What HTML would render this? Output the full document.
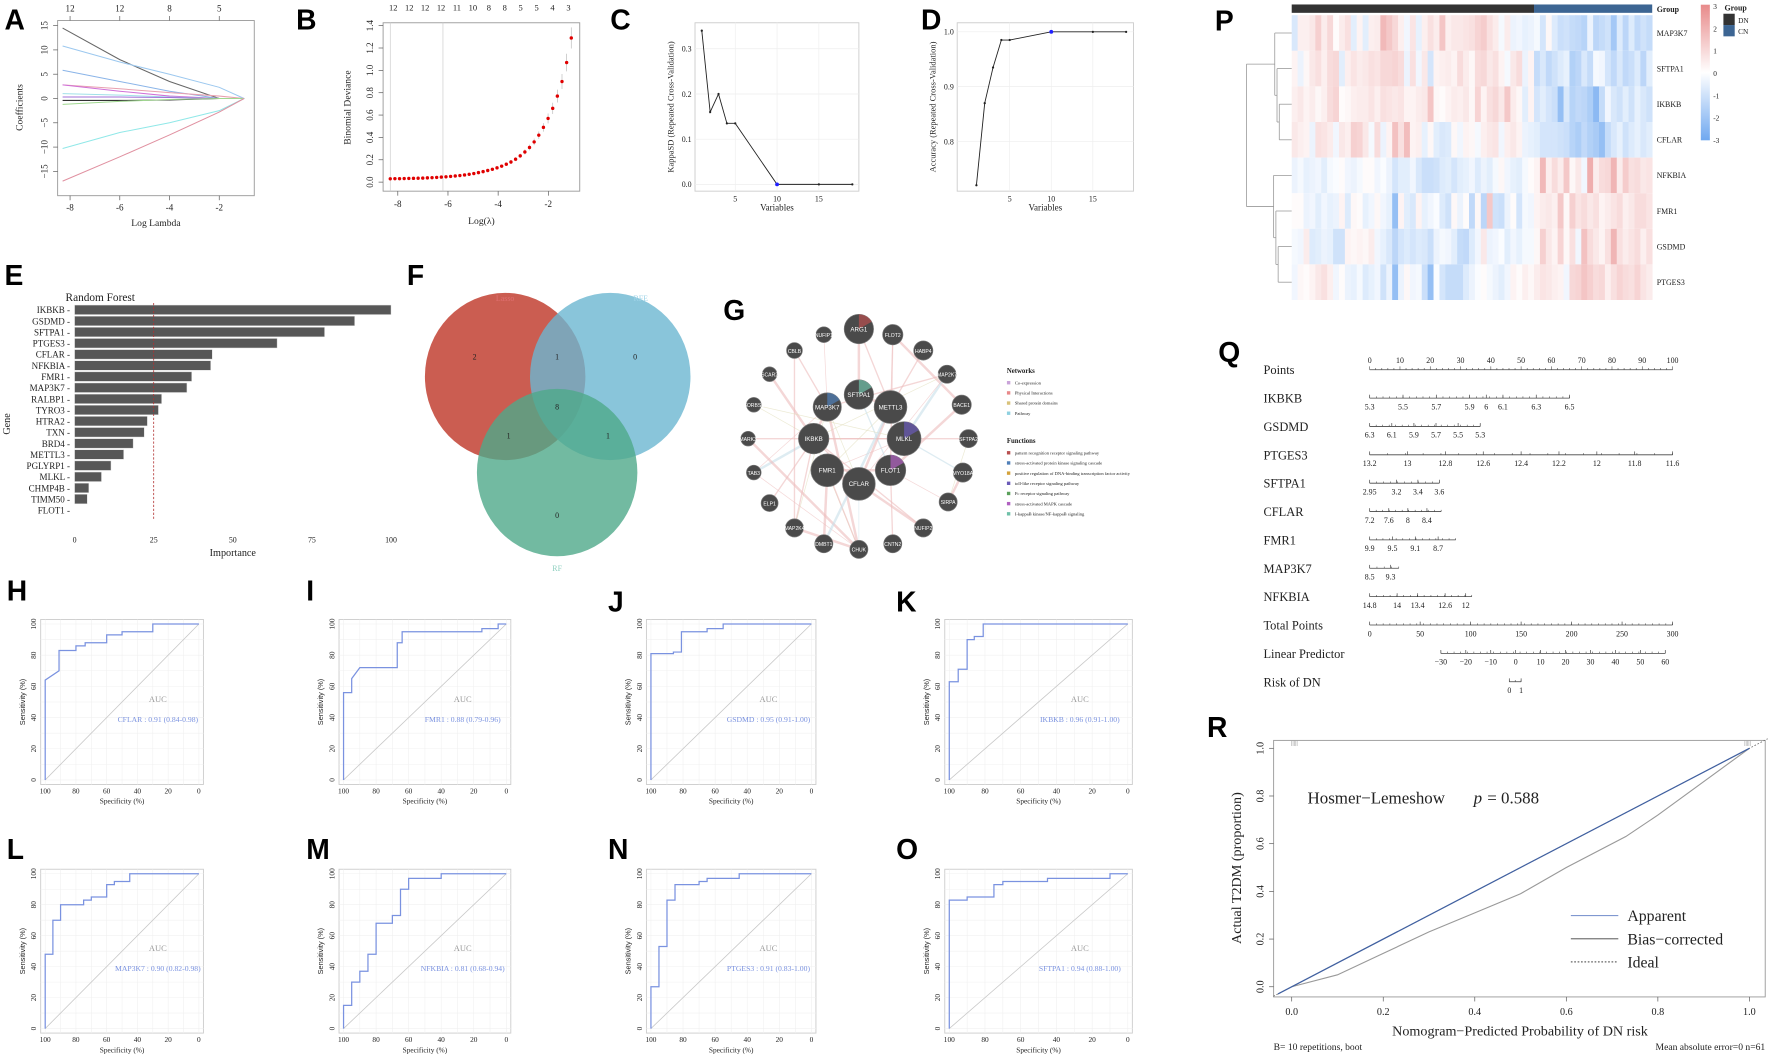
<!DOCTYPE html>
<html><head><meta charset="utf-8"><style>
html,body{margin:0;padding:0;background:#fff;}
svg{display:block;}
</style></head><body>
<svg id="fig" xmlns="http://www.w3.org/2000/svg" width="1772" height="1057" viewBox="0 0 1568 935">
<defs>
<linearGradient id="cbar" x1="0" y1="0" x2="0" y2="1">
<stop offset="0" stop-color="#e88a8a"/><stop offset="0.5" stop-color="#ffffff"/><stop offset="1" stop-color="#6fa8f0"/>
</linearGradient>
</defs>
</svg>
<script>
// ---------- DATA ----------
const aLambda=[-8.3,-6,-4,-2,-1];
const aCoefBlack=[14.5,8,3.5,0,0];
const aCoefLightBlue=[10.8,7.5,5,2.3,0];
const aCoefBlue=[5.8,3.5,1.5,0,0];
const aCoefPink=[2.8,2,1.2,0.5,0];
const aCoefMagenta=[2.8,1.5,0.5,0,0];
const aCoefCyanSmall=[1,0.7,0.3,0,0];
const aCoefPurple=[0.3,0.3,0.2,0,0];
const aCoefDark=[-0.4,-0.4,-0.3,0,0];
const aCoefGreen=[-1.2,-0.6,-0.2,0,0];
const aCoefCyan=[-10.3,-7,-5,-2.5,0];
const aCoefRed=[-17,-12,-7.5,-2.8,0];
const aTopLabels=['12','12','8','5'];
const bStart=-8.3, bStep=0.185;
const bDev=[.030,.031,.031,.032,.033,.034,.035,.036,.038,.040,.042,.045,.048,.051,.055,.059,.064,.070,.077,.085,.094,.104,.115,.128,.143,.16,.18,.205,.235,.27,.31,.36,.42,.49,.57,.66,.77,.90,1.07,1.29];
const bTopLabels=['12','12','12','12','11','10','8','8','5','5','4','3'];
const cVars=[1,2,3,4,5,10,15,19];
const cKappa=[0.34,0.16,0.2,0.135,0.135,0,0,0];
const dVars=[1,2,3,4,5,10,15,19];
const dAcc=[0.72,0.87,0.935,0.985,0.985,1,1,1];
const eGenes=['IKBKB','GSDMD','SFTPA1','PTGES3','CFLAR','NFKBIA','FMR1','MAP3K7','RALBP1','TYRO3','HTRA2','TXN','BRD4','METTL3','PGLYRP1','MLKL','CHMP4B','TIMM50','FLOT1'];
const eImp=[100,88.5,79,64,43.5,43,37,35.5,27.5,26.5,23,22,18.5,15.5,11.5,8.5,4.5,4,0];
const fCounts=['2','1','0','8','1','1','0'];
const gNodes=[['ARG1',760,291,13],['FLOT2',790,296,9],['HABP4',817,310,8.5],['MAP2K7',838,331,8],['BACE1',851,358,8.5],['SFTPA2',857,388,8],['MYO18A',852,418,8.5],['SIRPA',839,444,8],['NUFIP2',817,467,8],['CNTN2',790,481,8],['CHUK',760,486,8],['DMBT1',729,481,8],['MAP2K4',703,467,8],['ELP1',681,445,7.5],['TAB3',667,418,6.5],['MARK3',662,388,6.5],['SORBS1',667,358,6.5],['SCAR2',681,331,6.5],['CBLB',703,310,7],['NUFIP1',729,296,7],['SFTPA1',760,349,13],['METTL3',788,360,14.5],['MAP3K7',732,360,12.5],['IKBKB',720,388,13.5],['MLKL',800,388,15],['FMR1',732,416,14.5],['FLOT1',788,416,13.5],['CFLAR',760,428,14.5]];
const gEdges=[['ARG1','SFTPA1'],['ARG1','METTL3'],['FLOT2','METTL3'],['FLOT2','BACE1'],['HABP4','METTL3'],['MAP2K7','IKBKB'],['MAP2K7','MLKL'],['MAP2K7','MAP3K7'],['MAP2K7','CFLAR'],['BACE1','FLOT1'],['SFTPA2','MLKL'],['SFTPA2','SIRPA'],['MYO18A','SIRPA'],['MYO18A','MLKL'],['SIRPA','FLOT1'],['NUFIP2','CFLAR'],['CNTN2','FLOT1'],['CHUK','IKBKB'],['CHUK','MAP3K7'],['CHUK','FMR1'],['CHUK','CFLAR'],['DMBT1','FMR1'],['MAP2K4','IKBKB'],['MAP2K4','MAP3K7'],['MAP2K4','CHUK'],['ELP1','IKBKB'],['TAB3','MAP3K7'],['TAB3','IKBKB'],['MARK3','MLKL'],['SORBS1','IKBKB'],['SCAR2','IKBKB'],['CBLB','MAP3K7'],['NUFIP1','MAP3K7'],['SFTPA1','METTL3'],['SFTPA1','FLOT1'],['METTL3','FMR1'],['METTL3','CFLAR'],['MLKL','IKBKB'],['MLKL','FMR1'],['FMR1','FLOT1'],['CFLAR','IKBKB'],['CFLAR','MAP3K7'],['MAP3K7','IKBKB'],['FLOT2','FLOT1'],['TAB3','CHUK'],['MARK3','CHUK'],['CBLB','MAP2K4'],['SORBS1','MLKL'],['DMBT1','METTL3'],['NUFIP2','IKBKB']];
const gNetLabels=['Co-expression','Physical Interactions','Shared protein domains','Pathway'];
const gFuncLabels=['pattern recognition receptor signaling pathway','stress-activated protein kinase signaling cascade','positive regulation of DNA-binding transcription factor activity','toll-like receptor signaling pathway','Fc receptor signaling pathway','stress-activated MAPK cascade','I-kappaB kinase/NF-kappaB signaling'];
const rocH=[[100,0],[100,64],[91,70],[91,83],[80,83],[80,86],[74,86],[74,88],[60,88],[60,93],[50,93],[50,95],[30,95],[30,100],[0,100]];
const rocI=[[100,0],[100,56],[95,56],[95,65],[90,72],[67,72],[67,88],[64,88],[64,95],[15,95],[15,97],[5,97],[5,100],[0,100]];
const rocJ=[[100,0],[100,81],[86,81],[86,82],[81,82],[81,95],[65,95],[65,97],[55,97],[55,100],[0,100]];
const rocK=[[100,0],[100,63],[95,63],[95,71],[90,71],[90,90],[86,90],[86,92],[81,92],[81,100],[0,100]];
const rocL=[[100,0],[100,48],[95,48],[95,70],[90,70],[90,80],[75,80],[75,83],[70,83],[70,85],[60,85],[60,93],[55,93],[55,95],[45,95],[45,100],[0,100]];
const rocM=[[100,0],[100,15],[95,15],[95,30],[90,30],[90,37],[85,37],[85,48],[80,48],[80,68],[70,68],[70,73],[65,73],[65,90],[60,90],[60,97],[40,97],[40,100],[0,100]];
const rocN=[[100,0],[100,27],[95,27],[95,53],[90,53],[90,83],[85,83],[85,93],[70,93],[70,95],[65,95],[65,97],[45,97],[45,100],[0,100]];
const rocO=[[100,0],[100,83],[90,83],[90,85],[75,85],[75,93],[70,93],[70,95],[45,95],[45,97],[10,97],[10,100],[0,100]];
const rocLabels=['CFLAR : 0.91 (0.84-0.98)','FMR1 : 0.88 (0.79-0.96)','GSDMD : 0.95 (0.91-1.00)','IKBKB : 0.96 (0.91-1.00)','MAP3K7 : 0.90 (0.82-0.98)','NFKBIA : 0.81 (0.68-0.94)','PTGES3 : 0.91 (0.83-1.00)','SFTPA1 : 0.94 (0.88-1.00)'];
const pGenes=['MAP3K7','SFTPA1','IKBKB','CFLAR','NFKBIA','FMR1','GSDMD','PTGES3'];
const pDN=41, pCN=20;
const pMAP3K7=[-0.8,0.4,0.4,0.6,1.2,0.5,1,0.1,0.5,0.8,-0.6,0.3,-0.6,0.4,0.5,1.8,1.4,1,0.4,-0.3,0.7,-0.5,0.4,0.8,0.5,1.5,0.4,0.6,0.6,0.7,0.8,1.1,1.3,0.8,0.5,-0.2,0.5,-0.4,-0.3,-0.5,-0.4,-0.2,-0.9,0.2,-0.7,-1.1,-1,-1.2,-1.3,-1.5,-0.4,-1.4,-1.2,-1,-1.9,-0.7,-1.4,-0.7,-1.3,-1,-1.2];
const pSFTPA1=[0.3,-0.4,0.2,0.6,0.8,0.4,0.9,1,-0.6,0.4,0.7,0.5,0.6,0.8,0.7,1,1,1.1,0.9,-0.4,0.8,-0.3,0.6,-0.9,0.3,0.4,0.5,0.3,0.9,0.5,0.2,0.9,1,0.6,0.8,0.3,-0.2,0.6,0.9,-0.4,0.3,-1.2,-0.8,-1.3,-1,-0.7,-0.5,-1.6,-1.4,-0.8,-1.2,-0.2,-0.3,-0.9,-1.3,-0.8,-1.3,-1.1,-0.7,-1.4,-0.6];
const pIKBKB=[0.4,0.6,0.3,0.5,0.2,0.4,0.9,1.1,0.1,0.2,0.4,0.5,0.5,0.7,0.4,0.8,0.7,0.6,0.7,0.3,0.3,0.5,0.6,1.5,0.2,0.1,0.3,0.5,0.4,0.6,0.2,1.1,0.3,0.8,1,0.6,1.4,0.5,0.2,-0.6,0.3,-0.9,-0.6,-0.9,-1.1,-2.2,-0.8,-1.5,-1.3,-1.4,-1.7,-2.4,-1.2,-0.3,-0.8,-1,-0.6,-1,-0.5,-0.8,-1];
const pCFLAR=[0.6,0.4,0.3,-0.4,0.8,0.7,0.5,-0.3,0.6,0.4,1.2,1.1,0.6,-0.2,0.9,-0.4,0.3,1.6,0.8,1.7,0.3,0.4,-0.5,0.2,-0.6,-0.8,-0.7,0.2,-0.3,0.3,0.2,-0.2,0.4,0.6,0.7,-0.3,0.4,0.6,0.3,-0.4,-0.5,-0.6,-0.9,-0.9,-0.9,-1,-1.1,-1.5,-1.7,-1.3,-1.6,-1.8,-2.2,-1.2,-0.8,-0.5,-1,-0.7,-0.5,-0.8,-0.6];
const pNFKBIA=[-0.4,-0.2,-0.5,-0.4,-0.3,-0.6,-0.2,-0.1,0.1,-0.3,-0.4,-0.2,0.1,0.1,-0.3,-0.1,-0.4,-0.9,-0.6,-0.6,-0.3,-0.8,-1.1,-1.1,-1,-0.7,-0.6,-0.9,-0.6,-0.5,-0.3,-0.7,-0.4,-0.6,-0.2,0.2,-0.3,-0.5,-0.6,-0.2,0.1,0.3,1.8,0.4,0.9,0.5,1.4,0.2,0.6,-0.3,2.1,0.5,0.9,1,1.9,0.5,1.3,0.8,0.9,0.6,0.7];
const pFMR1=[0.1,0.1,-0.4,-0.3,-0.6,-0.3,-0.5,-0.4,0.3,-0.7,0.2,0.1,-0.5,-0.3,0.2,-0.3,-0.5,-2.2,0.3,-0.6,-0.8,0.3,-0.5,-0.3,-0.1,-0.7,-1,0.2,-0.4,0.1,-1.3,0.2,-1.4,1.4,-1,-1.1,-0.4,0.1,-0.9,-0.2,-0.3,0.3,0.5,0.6,0.4,1.4,0.2,1.2,0.7,0.9,0.6,0.8,0.3,0.5,0.7,0.9,0.4,0.6,0.9,0.9,0.7];
const pGSDMD=[-0.2,-0.3,0.5,-0.7,-0.6,-0.4,-0.5,-1,-1,0.3,0.2,0.3,0.2,0.5,-0.3,-0.5,-0.8,-1.4,-0.9,-0.7,-0.9,-0.7,-0.8,-1.1,-0.4,-0.2,-0.3,-0.6,-1.2,-1.3,-0.7,-0.3,0.6,-0.4,-0.3,-0.1,-0.6,-0.3,-0.5,-0.2,-0.2,0.2,1.2,0.6,0.3,1.1,0.2,0.8,-0.3,1.6,0.9,0.6,0.3,0.8,1.9,0.8,0.5,0.7,0.9,0.4,0.8];
const pPTGES3=[-0.3,0.2,0.1,0.3,0.6,0.8,0.4,-0.3,0.1,-0.4,-0.5,-0.2,-0.7,-0.5,-0.3,-1,-0.4,-2.2,-0.4,0.2,-0.3,-0.2,-1.1,-2.2,-0.1,-0.9,-1.2,-1.2,-1.2,-0.7,-0.4,-0.1,0.1,-0.2,-0.4,-0.6,-0.3,0.3,0.1,0.4,0.2,0.5,0.7,0.6,0.4,0.3,-0.3,1,1.1,1.5,1.2,0.9,1,0.4,0.8,1.1,0.9,0.8,1.1,0.7,0.5];
const pRows=[pMAP3K7,pSFTPA1,pIKBKB,pCFLAR,pNFKBIA,pFMR1,pGSDMD,pPTGES3];
const pScaleLabels=['3','2','1','0','-1','-2','-3'];
const qRowNames=['Points','IKBKB','GSDMD','PTGES3','SFTPA1','CFLAR','FMR1','MAP3K7','NFKBIA','Total Points','Linear Predictor','Risk of DN'];
const qPointsTicks=[0,10,20,30,40,50,60,70,80,90,100];
const qIKBKB=[5.3,5.5,5.7,5.9,6,6.1,6.3,6.5];
const qGSDMD=[6.3,6.1,5.9,5.7,5.5,5.3];
const qPTGES3=[13.2,13,12.8,12.6,12.4,12.2,12,11.8,11.6];
const qSFTPA1=[2.95,3.2,3.4,3.6];
const qCFLAR=[7.2,7.6,8,8.4];
const qFMR1=[9.9,9.5,9.1,8.7];
const qMAP3K7=[8.5,9.3];
const qNFKBIA=[14.8,14,13.4,12.6,12];
const qTotal=[0,50,100,150,200,250,300];
const qLinear=[-30,-20,-10,0,10,20,30,40,50,60];
const qRisk=[0,1];
const qMapIKBKB=[5.3,0,6.5,66,66];
const qMapGSDMD=[6.3,0,5.3,36.5,36.5];
const qMapPTGES3=[13.2,0,11.6,100,100];
const qMapSFTPA1=[2.95,0,3.6,23,23];
const qMapCFLAR=[7.2,0,8.4,18.9,23.6];
const qMapFMR1=[9.9,0,8.7,22.6,28.4];
const qMapMAP3K7=[8.5,0,9.3,6.9,9.6];
const qMapNFKBIA=[14.8,0,12,31.7,33.7];
const qMapTotal=[0,0,300,100,100];
const qMapLinear=[-30,23.5,60,97.6,97.6];
const qMapRisk=[0,46.1,1,50,50];
const rApparentX=[-0.03,1.0];
const rApparentY=[-0.03,1.0];
const rBiasX=[0,0.1,0.2,0.3,0.4,0.5,0.6,0.73,0.8,0.9,1.0];
const rBiasY=[0,0.05,0.14,0.23,0.31,0.39,0.5,0.63,0.72,0.86,1.0];
const rTicks=[0,0.2,0.4,0.6,0.8,1.0];

// ---------- HELPERS ----------
const NS='http://www.w3.org/2000/svg';
const svg=document.getElementById('fig');
function mk(tag,attrs,name,parent){
  const el=document.createElementNS(NS,tag);
  for(const k in attrs) el.setAttribute(k,attrs[k]);
  
  
  (parent||svg).appendChild(el);
  return el;
}
const SERIF='Liberation Serif, serif', SANS='Liberation Sans, sans-serif';
function txt(x,y,s,name,o){
  o=o||{};
  const a={x:x,y:y,'font-size':o.size||8,'font-family':o.font||SERIF,fill:o.fill||'#222','text-anchor':o.anchor||'start'};
  if(o.rot) a.transform='rotate('+o.rot+' '+x+' '+y+')';
  if(o.weight) a['font-weight']=o.weight;
  if(o.style) a['font-style']=o.style;
  const el=mk('text',a,name,o.parent);
  el.textContent=s;
  return el;
}
function ln(x1,y1,x2,y2,stroke,w,name,extra){
  return mk('line',Object.assign({x1:x1,y1:y1,x2:x2,y2:y2,stroke:stroke,'stroke-width':w||1},extra||{}),name);
}
function poly(pts,stroke,w,name,extra){
  return mk('polyline',Object.assign({points:pts.map(p=>p[0].toFixed(2)+','+p[1].toFixed(2)).join(' '),fill:'none',stroke:stroke,'stroke-width':w||1},extra||{}),name);
}
function rect(x,y,w,h,fill,name,extra){
  return mk('rect',Object.assign({x:x,y:y,width:w,height:h,fill:fill},extra||{}),name);
}

// ---------- PANEL LETTERS ----------
const letters=[['A',4,26],['B',262,26],['C',540,26],['D',815,26],['E',4,252],['F',360,252],['G',640,283],['H',6,531],['I',271,531],['J',538,541],['K',793,541],['L',6,760],['M',271,760],['N',538,760],['O',793,760],['P',1075,27],['Q',1078,320],['R',1068,652]];
letters.forEach(l=>txt(l[1],l[2],l[0],'panel-label-'+l[0].toLowerCase(),{size:25,font:SANS,weight:'bold',fill:'#000'}));

// ---------- A ----------
(function(){
  const ax=l=>62+(l+8)*22, ay=v=>87-4.3*v;
  rect(51,18,174,155,'none','lasso-plot-frame',{stroke:'#999','stroke-width':0.8});
  const series=[aCoefBlack,aCoefLightBlue,aCoefBlue,aCoefPink,aCoefMagenta,aCoefCyanSmall,aCoefPurple,aCoefDark,aCoefGreen,aCoefCyan,aCoefRed];
  const cols=['#666','#9cc8ef','#8ab4e8','#e8a0b0','#d070d8','#a0e0e8','#a070d8','#333','#a0d890','#90e8e8','#e090a0'];
  series.forEach((s,i)=>poly(s.map((v,j)=>[ax(aLambda[j]),ay(v)]),cols[i],0.9,'lasso-coef-line'));
  [15,10,5,0,-5,-10,-15].forEach(v=>{ln(47,ay(v),51,ay(v),'#555',0.6,'y-tick');txt(42,ay(v),String(v).replace('-','−'),'y-tick-label',{size:8,anchor:'middle',rot:-90});});
  [-8,-6,-4,-2].forEach((v,i)=>{ln(ax(v),173,ax(v),177,'#555',0.6,'x-tick');txt(ax(v),186,String(v),'x-tick-label',{size:8,anchor:'middle'});
    ln(ax(v),14,ax(v),18,'#555',0.6,'top-tick');txt(ax(v),10,aTopLabels[i],'top-tick-label',{size:8,anchor:'middle'});});
  txt(138,200,'Log Lambda','x-axis-title',{size:8.5,anchor:'middle'});
  txt(20,95,'Coefficients','y-axis-title',{size:8.5,anchor:'middle',rot:-90});
})();

// ---------- B ----------
(function(){
  const bx=l=>352+(l+8)*22.2, by=v=>161-98.9*v;
  rect(339,20,174,149,'none','cv-plot-frame',{stroke:'#999','stroke-width':0.8});
  ln(bx(-8.3),20,bx(-8.3),169,'#ccc',0.6,'lambda-min-line');
  ln(bx(-6.2),20,bx(-6.2),169,'#ccc',0.6,'lambda-1se-line');
  bDev.forEach((v,i)=>{const x=bx(bStart+i*bStep);const e=0.004+v*0.07;
    ln(x,by(v+e),x,by(v-e),'#bbb',0.6,'error-bar');
    mk('circle',{cx:x,cy:by(v),r:1.5,fill:'#e00000'},'deviance-point');});
  [0,0.2,0.4,0.6,0.8,1.0,1.2,1.4].forEach(v=>{ln(335,by(v),339,by(v),'#555',0.6,'y-tick');txt(330,by(v),v.toFixed(1),'y-tick-label',{size:8,anchor:'middle',rot:-90});});
  [-8,-6,-4,-2].forEach(v=>{ln(bx(v),169,bx(v),173,'#555',0.6,'x-tick');txt(bx(v),183,String(v),'x-tick-label',{size:8,anchor:'middle'});});
  bTopLabels.forEach((s,i)=>txt(348+i*(155/11),9,s,'top-tick-label',{size:7.5,anchor:'middle'}));
  txt(426,198,'Log(λ)','x-axis-title',{size:8.5,anchor:'middle'});
  txt(310,95,'Binomial Deviance','y-axis-title',{size:8.5,anchor:'middle',rot:-90});
})();

// ---------- C & D ----------
function rfe(vars,vals,x0,x1,top,bottom,mx,my,yt,yfmt,ytitle,pre){
  rect(x0,top,x1-x0,bottom-top,'#fff',pre+'-plot-frame',{stroke:'#ccc','stroke-width':0.8});
  [5,10,15].forEach(v=>ln(mx(v),top,mx(v),bottom,'#eee',0.6,'grid-x'));
  yt.forEach(v=>ln(x0,my(v),x1,my(v),'#eee',0.6,'grid-y'));
  poly(vars.map((v,i)=>[mx(v),my(vals[i])]),'#222',0.8,pre+'-line');
  vars.forEach((v,i)=>mk('circle',{cx:mx(v),cy:my(vals[i]),r:v===10?1.7:1,fill:v===10?'#2020ff':'#222'},pre+'-point'));
  yt.forEach(v=>txt(x0-3,my(v)+2.5,yfmt(v),'y-tick-label',{size:7,anchor:'end'}));
  [5,10,15].forEach(v=>txt(mx(v),bottom+9,String(v),'x-tick-label',{size:7,anchor:'middle'}));
  txt((x0+x1)/2,bottom+17,'Variables','x-axis-title',{size:8,anchor:'middle'});
  txt(x0-19,(top+bottom)/2,ytitle,'y-axis-title',{size:7.5,anchor:'middle',rot:-90});
}
rfe(cVars,cKappa,615,760,20,169,v=>621+(v-1)*7.4,v=>163-400*v,[0,0.1,0.2,0.3],v=>v.toFixed(1),'KappaSD (Repeated Cross-Validation)','kappa');
rfe(dVars,dAcc,847,1003,20,169,v=>864+(v-1)*7.36,v=>28+(1-v)*485,[0.8,0.9,1.0],v=>v.toFixed(1),'Accuracy (Repeated Cross-Validation)','accuracy');

// ---------- E ----------
(function(){
  const ex=v=>66+2.8*v, ey=i=>274+i*9.85;
  txt(58,266,'Random Forest','chart-title',{size:10});
  eImp.forEach((v,i)=>{
    rect(ex(0),ey(i)-4.2,ex(v)-ex(0),8.4,'#575757','importance-bar',{stroke:'#ddd','stroke-width':0.4});
    txt(62,ey(i)+3,eGenes[i]+' -','gene-label',{size:8,anchor:'end'});
  });
  ln(ex(25),268,ex(25),460,'#b03030',0.7,'threshold-line',{'stroke-dasharray':'2,1.5'});
  [0,25,50,75,100].forEach(v=>txt(ex(v),480,String(v),'x-tick-label',{size:7,anchor:'middle'}));
  txt(ex(50),492,'Importance','x-axis-title',{size:9,anchor:'middle'});
  txt(9,375,'Gene','y-axis-title',{size:9,anchor:'middle',rot:-90});
})();

// ---------- F ----------
(function(){
  mk('ellipse',{cx:447,cy:333,rx:71,ry:74,fill:'#c0392b','fill-opacity':0.82},'venn-lasso');
  mk('ellipse',{cx:540,cy:333,rx:71,ry:74,fill:'#6bb6d1','fill-opacity':0.8},'venn-rfe');
  mk('ellipse',{cx:493,cy:418,rx:71,ry:74,fill:'#4fa98a','fill-opacity':0.8},'venn-rf');
  txt(447,266,'Lasso','venn-label-lasso',{size:7,anchor:'middle',fill:'#e07070'});
  txt(567,266,'RFE','venn-label-rfe',{size:7,anchor:'middle',fill:'#9fd4e8'});
  txt(493,505,'RF','venn-label-rf',{size:7,anchor:'middle',fill:'#8fd0c0'});
  const pos=[[420,318],[493,318],[562,318],[493,362],[450,388],[538,388],[493,458]];
  pos.forEach((p,i)=>txt(p[0],p[1],fCounts[i],'venn-count',{size:7,anchor:'middle'}));
})();

// ---------- G ----------
(function(){
  const idx={};gNodes.forEach(n=>idx[n[0]]=n);
  gEdges.forEach((e,i)=>{const a=idx[e[0]],b=idx[e[1]];
    const col=i%6===5?'#e0dcb8':(i%7===6?'#c8e0ea':'#ecbcbc');
    ln(a[1],a[2],b[1],b[2],col,i%3===0?2.2:(i%3===1?1.2:0.6),'network-edge',{'stroke-opacity':0.6});});
  const sliceCols=['#b84f4f','#4f7fb8','#d4a23a','#6a5ab8','#5aa05a','#b060c0','#6fc0a8'];
  gNodes.forEach((n,k)=>{
    mk('circle',{cx:n[1],cy:n[2],r:n[3],fill:'#4a4a4a',stroke:'#777','stroke-width':0.6},'network-node');
    if(n[3]>12 && k%2===0){const r=n[3];
      mk('path',{d:'M'+n[1]+','+n[2]+' L'+n[1]+','+(n[2]-r)+' A'+r+','+r+' 0 0 1 '+(n[1]+r*0.87)+','+(n[2]-r*0.5)+' Z',fill:sliceCols[k%7],'fill-opacity':0.7},'node-function-slice');}
    txt(n[1],n[2]+2,n[0],'node-label',{size:n[3]>11?5.5:4.5,font:SANS,anchor:'middle',fill:'#fff'});
  });
  txt(891,330,'Networks','legend-title-networks',{size:6,weight:'bold'});
  const nc=['#c9a3d9','#e8898a','#d8c27a','#8fd0e0'];
  gNetLabels.forEach((s,i)=>{rect(891,337+i*9,3,3,nc[i],'legend-swatch');txt(898,340+i*9,s,'legend-entry',{size:4});});
  txt(891,392,'Functions','legend-title-functions',{size:6,weight:'bold'});
  gFuncLabels.forEach((s,i)=>{rect(891,399+i*9,3,3,sliceCols[i],'legend-swatch');txt(898,402+i*9,s,'legend-entry',{size:4});});
})();

// ---------- H-O ----------
function roc(x0,x1,top,bottom,pts,label,name){
  const sx=s=>x0+4+(100-s)/100*(x1-x0-8), sy=v=>bottom-4-v/100*(bottom-top-8);
  rect(x0,top,x1-x0,bottom-top,'#fff',name+'-frame',{stroke:'#ccc','stroke-width':0.8});
  for(let g=0;g<=100;g+=10){ln(sx(g),top,sx(g),bottom,'#f0f0f0',0.5,'grid-x');ln(x0,sy(g),x1,sy(g),'#f0f0f0',0.5,'grid-y');}
  ln(sx(100),sy(0),sx(0),sy(100),'#c8c8c8',0.7,'reference-diagonal');
  poly(pts.map(p=>[sx(p[0]),sy(p[1])]),'#7a92e0',1.1,name+'-curve');
  [100,80,60,40,20,0].forEach(v=>{txt(sx(v),bottom+8,String(v),'x-tick-label',{size:6.5,anchor:'middle'});
    txt(x0-4,sy(v),String(v),'y-tick-label',{size:6.5,anchor:'middle',rot:-90});});
  txt((x0+x1)/2,bottom+17,'Specificity (%)','x-axis-title',{size:6.5,anchor:'middle'});
  txt(x0-14,(top+bottom)/2,'Sensitivity (%)','y-axis-title',{size:6.5,anchor:'middle',rot:-90,font:SANS});
  txt(x0+0.72*(x1-x0),top+0.5*(bottom-top),'AUC','auc-title',{size:7.5,anchor:'middle',fill:'#999'});
  txt(x0+0.72*(x1-x0),top+0.62*(bottom-top),label,'auc-label',{size:6.8,anchor:'middle',fill:'#7a92e0'});
}
const cols=[[36,180],[300,452],[572,722],[836,1002]];
const row1=[548,694], row2=[769,914];
[rocH,rocI,rocJ,rocK].forEach((d,i)=>roc(cols[i][0],cols[i][1],row1[0],row1[1],d,rocLabels[i],'roc-'+'hijk'[i]));
[rocL,rocM,rocN,rocO].forEach((d,i)=>roc(cols[i][0],cols[i][1],row2[0],row2[1],d,rocLabels[4+i],'roc-'+'lmno'[i]));

// ---------- P ----------
(function(){
  const x0=1143, x1=1462, top=13.3, rh=31.5;
  function col(v){const t=Math.max(-1,Math.min(1,v/3));
    const c=t>=0?[232,138,138]:[111,168,240];const a=Math.abs(t);
    return 'rgb('+Math.round(255+(c[0]-255)*a)+','+Math.round(255+(c[1]-255)*a)+','+Math.round(255+(c[2]-255)*a)+')';}
  const n=pDN+pCN, cw=(x1-x0)/n;
  rect(x0,3.8,cw*pDN,7.4,'#333','group-bar-dn');
  rect(x0+cw*pDN,3.8,cw*pCN,7.4,'#3c6593','group-bar-cn');
  pRows.forEach((row,r)=>{const w=(x1-x0)/row.length;
    row.forEach((v,c)=>rect(x0+c*w,top+r*rh,w+0.3,rh,col(v),'heatmap-cell'));
    txt(x1+4,top+r*rh+rh/2+2.5,pGenes[r],'row-label',{size:7});});
  txt(x1+4,10.5,'Group','group-label',{size:7,weight:'bold'});
  const yc=i=>top+i*rh+rh/2;
  const dg='#999';
  const segs=[[1143,yc(2),1132,yc(2)],[1143,yc(3),1132,yc(3)],[1132,yc(2),1132,yc(3)],
    [1143,yc(1),1130,yc(1)],[1132,(yc(2)+yc(3))/2,1130,(yc(2)+yc(3))/2],[1130,yc(1),1130,(yc(2)+yc(3))/2],
    [1143,yc(0),1128,yc(0)],[1130,(yc(1)+(yc(2)+yc(3))/2)/2,1128,(yc(1)+(yc(2)+yc(3))/2)/2],[1128,yc(0),1128,(yc(1)+(yc(2)+yc(3))/2)/2],
    [1143,yc(6),1131,yc(6)],[1143,yc(7),1131,yc(7)],[1131,yc(6),1131,yc(7)],
    [1143,yc(5),1129,yc(5)],[1131,(yc(6)+yc(7))/2,1129,(yc(6)+yc(7))/2],[1129,yc(5),1129,(yc(6)+yc(7))/2],
    [1143,yc(4),1127,yc(4)],[1129,(yc(5)+(yc(6)+yc(7))/2)/2,1127,(yc(5)+(yc(6)+yc(7))/2)/2],[1127,yc(4),1127,(yc(5)+(yc(6)+yc(7))/2)/2]];
  segs.forEach(s=>ln(s[0],s[1],s[2],s[3],dg,0.7,'dendrogram-branch'));
  const tY=(yc(0)+(yc(1)+(yc(2)+yc(3))/2)/2)/2, bY=(yc(4)+(yc(5)+(yc(6)+yc(7))/2)/2)/2;
  ln(1128,tY,1103,tY,dg,0.7,'dendrogram-branch');ln(1127,bY,1103,bY,dg,0.7,'dendrogram-branch');ln(1103,tY,1103,bY,dg,0.7,'dendrogram-branch');
  rect(1505,4,8,120,'url(#cbar)','color-scale-bar');
  pScaleLabels.forEach((s,i)=>txt(1516,8+i*19.7,s,'color-scale-label',{size:6.5}));
  txt(1526,9,'Group','legend-title-group',{size:7,weight:'bold'});
  rect(1525,12,10,10,'#333','legend-swatch-dn');txt(1538,20,'DN','legend-entry-dn',{size:6.5});
  rect(1525,22,10,10,'#3c6593','legend-swatch-cn');txt(1538,30,'CN','legend-entry-cn',{size:6.5});
})();

// ---------- Q ----------
(function(){
  const qx=p=>1212+p*2.68, rowY=i=>327+i*25.1;
  qRowNames.forEach((s,i)=>txt(1118,rowY(i)+4,s,'nomogram-row-label',{size:11}));
  ln(qx(0),rowY(0),qx(100),rowY(0),'#444',0.7,'points-axis');
  for(let p=0;p<=100;p+=2)ln(qx(p),rowY(0),qx(p),rowY(0)+(p%10===0?-3:-1.5),'#444',0.5,'points-tick');
  qPointsTicks.forEach(v=>txt(qx(v),rowY(0)-6,String(v),'points-tick-label',{size:7,anchor:'middle'}));
  const rows=[[qIKBKB,qMapIKBKB],[qGSDMD,qMapGSDMD],[qPTGES3,qMapPTGES3],[qSFTPA1,qMapSFTPA1],[qCFLAR,qMapCFLAR],[qFMR1,qMapFMR1],[qMAP3K7,qMapMAP3K7],[qNFKBIA,qMapNFKBIA],[qTotal,qMapTotal],[qLinear,qMapLinear],[qRisk,qMapRisk]];
  rows.forEach((r,k)=>{const i=k+1,y=rowY(i),m=r[1];
    const pv=v=>m[1]+(v-m[0])/(m[2]-m[0])*(m[3]-m[1]);
    ln(qx(m[1]),y,qx(m[4]),y,'#444',0.7,'nomogram-axis');
    const span=m[4]-m[1];const nt=Math.max(2,Math.round(span/(k===2?6:2.2)));
    for(let t=0;t<=nt;t++){const p=m[1]+span*t/nt;ln(qx(p),y,qx(p),y-1.5,'#444',0.5,'nomogram-minor-tick');}
    r[0].forEach(v=>{const p=pv(v);ln(qx(p),y,qx(p),y-3,'#444',0.6,'nomogram-tick');
      txt(qx(p),y+10,String(v).replace('-','−'),'nomogram-tick-label',{size:7,anchor:'middle'});});
  });
})();

// ---------- R ----------
(function(){
  const rx=v=>1143+v*405, ry=v=>873-v*211;
  rect(1127,655,435,227,'none','calibration-frame',{stroke:'#999','stroke-width':0.8});
  ln(rx(-0.04),ry(-0.04),rx(1.04),ry(1.04),'#666',0.7,'ideal-line',{'stroke-dasharray':'1.5,1.5'});
  poly(rBiasX.map((v,i)=>[rx(v),ry(rBiasY[i])]),'#999',1,'bias-corrected-line');
  poly(rApparentX.map((v,i)=>[rx(v),ry(rApparentY[i])]),'#4060a0',1.1,'apparent-line');
  for(let k=0;k<5;k++){ln(rx(0)+k*1.2,655,rx(0)+k*1.2,660,'#aaa',0.5,'rug-tick');ln(rx(0.99)+k*1.2,655,rx(0.99)+k*1.2,660,'#aaa',0.5,'rug-tick');}
  rTicks.forEach(v=>{ln(rx(v),882,rx(v),886,'#555',0.6,'x-tick');txt(rx(v),898,v.toFixed(1),'x-tick-label',{size:9,anchor:'middle'});
    ln(1123,ry(v),1127,ry(v),'#555',0.6,'y-tick');txt(1118,ry(v),v.toFixed(1),'y-tick-label',{size:9,anchor:'middle',rot:-90});});
  txt(1157,711,'Hosmer−Lemeshow   ','hosmer-lemeshow-text',{size:15});
  txt(1304,711,'p','hosmer-p-symbol',{size:15,style:'italic'});
  txt(1316,711,'= 0.588','hosmer-p-value',{size:15});
  const leg=[['Apparent','#8098d0',''],['Bias−corrected','#777',''],['Ideal','#666','1.5,1.5']];
  leg.forEach((l,i)=>{const y=810+i*20.5;ln(1390,y,1432,y,l[1],1.1,'legend-line',l[2]?{'stroke-dasharray':l[2]}:{});
    txt(1440,y+5,l[0],'legend-entry',{size:14});});
  txt(1345,916,'Nomogram−Predicted Probability of DN risk','x-axis-title',{size:12.5,anchor:'middle'});
  txt(1098,768,'Actual T2DM (proportion)','y-axis-title',{size:12.5,anchor:'middle',rot:-90});
  txt(1127,929,'B= 10 repetitions, boot','footer-left',{size:8.5});
  txt(1562,929,'Mean absolute error=0 n=61','footer-right',{size:8.5,anchor:'end'});
})();
</script>
</body></html>
